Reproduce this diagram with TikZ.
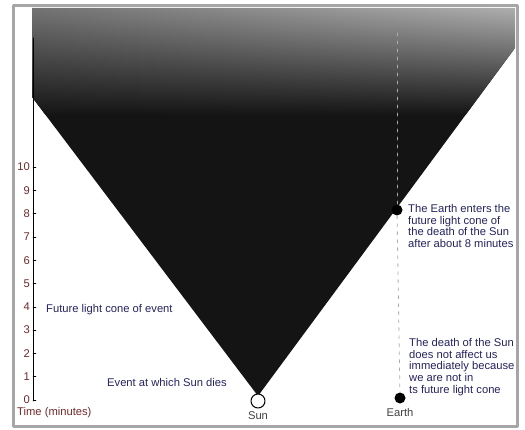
\documentclass[tikz,border=0pt]{standalone}
\usepackage{fontspec}
\setmainfont{Liberation Sans}
\usetikzlibrary{positioning, shadings}
\definecolor{noteblue}{RGB}{35,35,95}
\definecolor{tickred}{RGB}{115,40,40}

\begin{document}
\begin{tikzpicture}[x=1pt, y=-1pt, font=\fontsize{11.2}{11.8}\selectfont, line cap=round, line join=round,
	note/.style={text=noteblue, align=left, inner sep=0pt},
	ticklabel/.style={text=tickred, inner sep=0pt, anchor=east},
	worldpoint/.style={circle, fill=black, minimum size=11pt, inner sep=0pt}]
	\useasboundingbox (0,0) rectangle (525,430);

	% frame
	\draw[gray!70, line width=3pt] (13,6) rectangle (517,426);

	% future light cone of the event
	\begin{scope}
		\clip (32,8) -- (32,97) -- (258,396) -- (515,48) -- (515,8) -- cycle;
		\fill[black!92] (32,8) rectangle (515,400);
		\shade[upper left=black!55, upper right=black!32, lower left=black!92, lower right=black!92] (32,8) rectangle (515,115);
	\end{scope}

	% time axis
	\draw[line width=0.8pt] (33,38) -- (33,401);
	\foreach \t in {0,...,10} {
		\node[ticklabel] (tick\t) at ({30},{400-23.3*\t}) {\t};
		\draw (33,{400-23.3*\t}) -- (36,{400-23.3*\t});
	}
	\node[text=tickred, inner sep=0pt, anchor=west] (timelabel) at (17,413) {Time (minutes)};

	% Sun
	\node[circle, draw=black, line width=1pt, fill=white, minimum size=14pt, inner sep=0pt] (sun) at (258,401) {};
	\node[note, text=black!75, below=3pt of sun] (sunlabel) {Sun};

	% Earth world line
	\coordinate (worldtop) at (397,33);
	\node[worldpoint] (enter) at (397,210) {};
	\node[worldpoint] (earth) at (400,398) {};
	\node[note, text=black!75, below=4pt of earth] (earthlabel) {Earth};
	\draw[gray!65, line width=0.8pt, dash pattern=on 3pt off 5pt] (worldtop) -- (enter);
	\draw[gray!65, line width=0.8pt, dash pattern=on 3pt off 5pt] (enter) -- (earth);

	% labels
	\node[note, anchor=west] (conelabel) at (46,310) {Future light cone of event};
	\node[note, anchor=west] (eventlabel) at (107,382) {Event at which Sun dies};
	\node[note, anchor=north west] (enterlabel) at (408,204) {The Earth enters the\\future light cone of\\the death of the Sun\\after about 8 minutes};
	\node[note, anchor=north west] (notlabel) at (409,338) {The death of the Sun\\does not affect us\\immediately because\\we are not in\\ts future light cone};
\end{tikzpicture}
\end{document}
